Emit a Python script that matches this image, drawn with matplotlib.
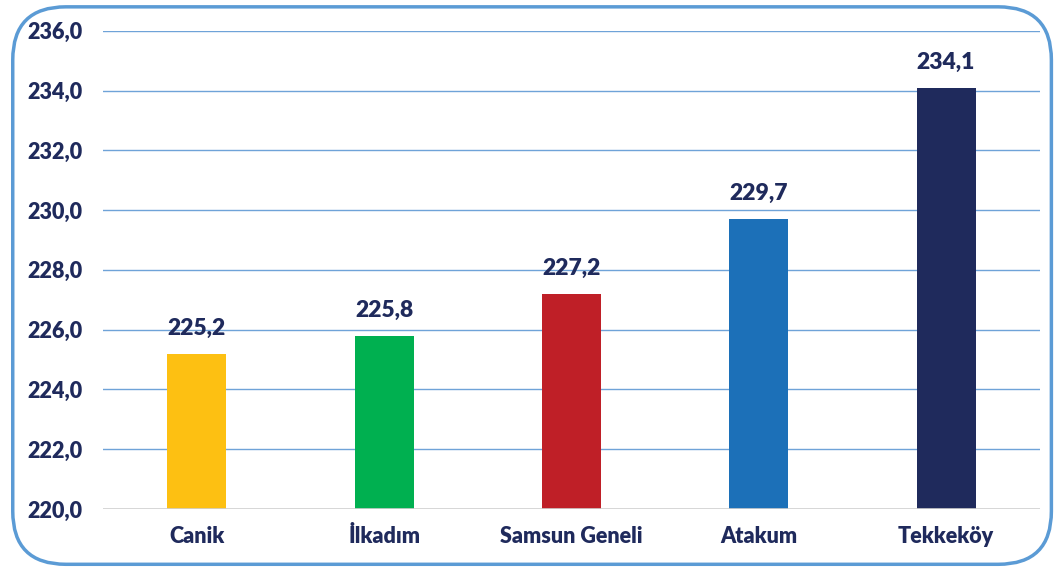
import matplotlib.pyplot as plt
from matplotlib.patches import FancyBboxPatch

categories = ['Canik', 'İlkadım', 'Samsun Geneli', 'Atakum', 'Tekkeköy']
values = [225.2, 225.8, 227.2, 229.7, 234.1]
colors = ['#FDC012', '#00B050', '#BF1F27', '#1C70B8', '#1F2A5C']
yticks = [220, 222, 224, 226, 228, 230, 232, 234, 236]

navy = '#1F2A5C'
plt.rcParams['font.family'] = ['Lato', 'DejaVu Sans']

fig = plt.figure(figsize=(10.62, 5.70), dpi=100)
ax = fig.add_axes([0.097, 0.107, 0.882, 0.839])

# rounded frame around the chart
frame = FancyBboxPatch((0.012, 0.01), 0.978, 0.978, boxstyle='round,pad=0,rounding_size=0.05',
                       transform=fig.transFigure, facecolor='none', edgecolor='#5B9BD5',
                       linewidth=2.5, mutation_aspect=1062 / 570)
fig.patches.append(frame)

x = range(len(categories))
bars = ax.bar(x, values, width=0.315, color=colors, zorder=3, bottom=0)
ax.set_ylim(220, 236)
ax.set_xlim(-0.5, len(categories) - 0.5)
ax.set_yticks(yticks)
ax.set_yticklabels([f'{v:.1f}'.replace('.', ',') for v in yticks],
                   fontsize=15.5, fontweight='heavy', color=navy)
ax.set_xticks(list(x))
ax.set_xticklabels(categories, fontsize=15.5, fontweight='heavy', color=navy)
ax.tick_params(length=0)
ax.tick_params(axis='y', pad=15)
ax.tick_params(axis='x', pad=12)

for v in yticks[1:]:
    ax.axhline(v, color='#6FA3D8', linewidth=1.0, zorder=1)
ax.axhline(220, color='#D0D0D0', linewidth=1.2, zorder=4)

for s in ax.spines.values():
    s.set_visible(False)

for xi, v in zip(x, values):
    ax.text(xi, v + 0.5, f'{v:.1f}'.replace('.', ','), ha='center', va='bottom',
            fontsize=16.5, fontweight='heavy', color=navy, zorder=5)

fig.savefig('out.png', dpi=100)
